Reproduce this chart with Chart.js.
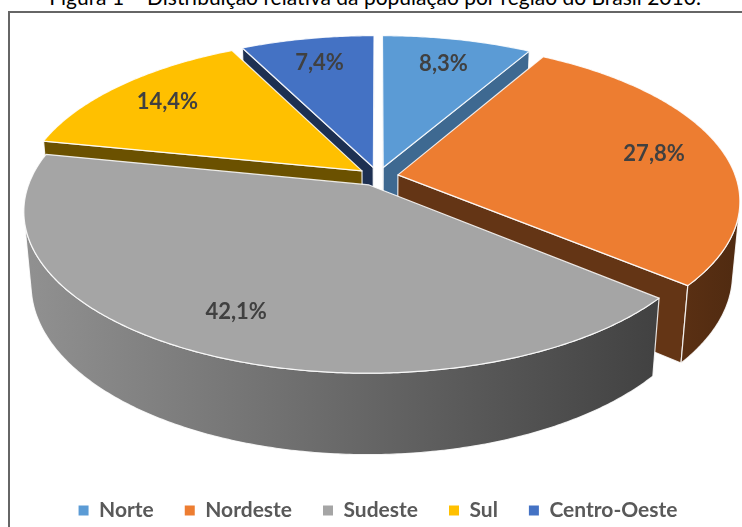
<!DOCTYPE html>
<html>
<head>
<meta charset="utf-8">
<script src="https://cdn.jsdelivr.net/npm/chart.js@4/dist/chart.umd.min.js"></script>
<style>
  html, body { margin: 0; padding: 0; background: #fff; }
  #wrap { position: relative; width: 742px; height: 527px; overflow: hidden; }
  #frame { position: absolute; left: 8px; top: 11px; right: -6px; bottom: -6px; border-left: 2px solid #666; border-top: 2px solid #666; }
  #title { position: absolute; left: 0; width: 750px; top: -14px; text-align: center; font: 21px Lato, sans-serif; line-height: 21px; color: #000; white-space: nowrap; }
  #box { position: absolute; left: 0; top: 0; width: 742px; height: 527px; }
</style>
</head>
<body>
<div id="wrap">
  <div id="frame"></div>
  <div id="title">Figura 1 – Distribuição relativa da população por região do Brasil 2010.</div>
  <div id="box"><canvas id="myChart"></canvas></div>
</div>
<script>
const labels = ['Norte', 'Nordeste', 'Sudeste', 'Sul', 'Centro-Oeste'];
const shares = [8.3, 27.8, 42.1, 14.4, 7.4];
const colorHex = ['#5B9BD5', '#ED7D31', '#A5A5A5', '#FFC000', '#4472C4'];

// fake 3d: camera tilt, distance (in radii), slab thickness, explode distance
const tilt = 27.4 * Math.PI / 180;
const camDist = 5.6;
const thick = 0.245;
const explode = 0.06;

function shade(hex, f) {
  const n = parseInt(hex.slice(1), 16);
  const r = Math.round(((n >> 16) & 255) * f);
  const g = Math.round(((n >> 8) & 255) * f);
  const b = Math.round((n & 255) * f);
  return 'rgb(' + r + ',' + g + ',' + b + ')';
}

function fillPoly(ctx, pts, fill) {
  ctx.beginPath();
  ctx.moveTo(pts[0][0], pts[0][1]);
  for (let i = 1; i < pts.length; i++) ctx.lineTo(pts[i][0], pts[i][1]);
  ctx.closePath();
  ctx.fillStyle = fill;
  ctx.fill();
  ctx.stroke();
}

const pie3d = {
  id: 'pie3d',
  beforeDatasetsDraw(chart) {
    const ctx = chart.ctx;
    const arcs = chart.getDatasetMeta(0).data;
    const cx = arcs[0].x;
    const cy = arcs[0].y - 58;
    const k = arcs[0].outerRadius * 1.44;
    const se = Math.sin(tilt), ce = Math.cos(tilt);
    const F = k * camDist;
    const camY = -camDist * ce;
    const proj = (X, Y, Z) => {
      const dep = camDist + Y * ce - Z * se;
      return [cx + F * X / dep, cy - F * (Y * se + Z * ce) / dep];
    };
    // wall faces the camera? (walls are vertical, so z drops out)
    const faces = (nx, ny, px, py) => nx * px + ny * (py - camY) < 0;

    const slices = arcs.map((a, i) => {
      const t0 = a.startAngle + Math.PI / 2, t1 = a.endAngle + Math.PI / 2;
      const tm = (t0 + t1) / 2;
      return { i, t0, t1, tm, ox: explode * Math.sin(tm), oy: explode * Math.cos(tm) };
    });
    slices.sort((a, b) => Math.cos(b.tm) - Math.cos(a.tm));

    ctx.save();
    ctx.lineJoin = 'round';
    ctx.strokeStyle = 'rgba(255,255,255,0.85)';
    ctx.lineWidth = 1.2;

    slices.forEach(s => {
      const c = colorHex[s.i];
      const { t0, t1, ox, oy } = s;
      const rim = (t, z) => proj(ox + Math.sin(t), oy + Math.cos(t), z);
      const apexT = proj(ox, oy, 0), apexB = proj(ox, oy, -thick);
      const steps = Math.max(2, Math.ceil((t1 - t0) / 0.01));

      // radial walls
      const walls = [
        { t: t0, nx: -Math.cos(t0), ny: Math.sin(t0) },
        { t: t1, nx: Math.cos(t1), ny: -Math.sin(t1) }
      ];
      walls.forEach(w => {
        const px = ox + 0.5 * Math.sin(w.t), py = oy + 0.5 * Math.cos(w.t);
        if (!faces(w.nx, w.ny, px, py)) return;
        const f = 0.42 + 0.6 * Math.max(0, w.nx) * Math.max(0, -w.ny);
        fillPoly(ctx, [apexT, rim(w.t, 0), rim(w.t, -thick), apexB], shade(c, f));
      });

      // outer curved wall, only the part facing the camera
      let ia = -1, ib = -1;
      for (let j = 0; j < steps; j++) {
        const t = t0 + (t1 - t0) * (j + 0.5) / steps;
        if (faces(Math.sin(t), Math.cos(t), ox + Math.sin(t), oy + Math.cos(t))) {
          if (ia < 0) ia = j;
          ib = j + 1;
        }
      }
      if (ia >= 0) {
        const pts = [];
        for (let j = ia; j <= ib; j++) pts.push(rim(t0 + (t1 - t0) * j / steps, 0));
        for (let j = ib; j >= ia; j--) pts.push(rim(t0 + (t1 - t0) * j / steps, -thick));
        const grad = ctx.createLinearGradient(cx - 1.05 * k, 0, cx + 1.05 * k, 0);
        grad.addColorStop(0, shade(c, 0.88));
        grad.addColorStop(1, shade(c, 0.34));
        fillPoly(ctx, pts, grad);
      }

      // top face
      const top = [apexT];
      for (let j = 0; j <= steps; j++) top.push(rim(t0 + (t1 - t0) * j / steps, 0));
      fillPoly(ctx, top, c);
    });

    // value labels
    ctx.fillStyle = '#404040';
    ctx.font = 'bold 22px Lato';
    ctx.textAlign = 'center';
    ctx.textBaseline = 'middle';
    slices.forEach(s => {
      const p = proj(s.ox + 0.79 * Math.sin(s.tm), s.oy + 0.79 * Math.cos(s.tm), 0);
      ctx.fillText(shares[s.i].toFixed(1).replace('.', ',') + '%', p[0], p[1]);
    });
    ctx.restore();
    return false;
  }
};

let ctx = document.getElementById('myChart').getContext('2d');
let myChart = new Chart(ctx, {
  type: 'pie',
  data: {
    labels: labels,
    datasets: [{
      data: shares,
      backgroundColor: colorHex,
      borderWidth: 0
    }]
  },
  options: {
    responsive: true,
    maintainAspectRatio: false,
    animation: false,
    layout: { padding: { left: 14, bottom: -4 } },
    plugins: {
      tooltip: { enabled: false },
      legend: {
        position: 'bottom',
        labels: {
          font: { family: 'Lato', size: 21, weight: 'bold' },
          color: '#595959',
          boxWidth: 10,
          boxHeight: 10,
          padding: 31
        }
      }
    }
  },
  plugins: [pie3d]
});
</script>
</body>
</html>
